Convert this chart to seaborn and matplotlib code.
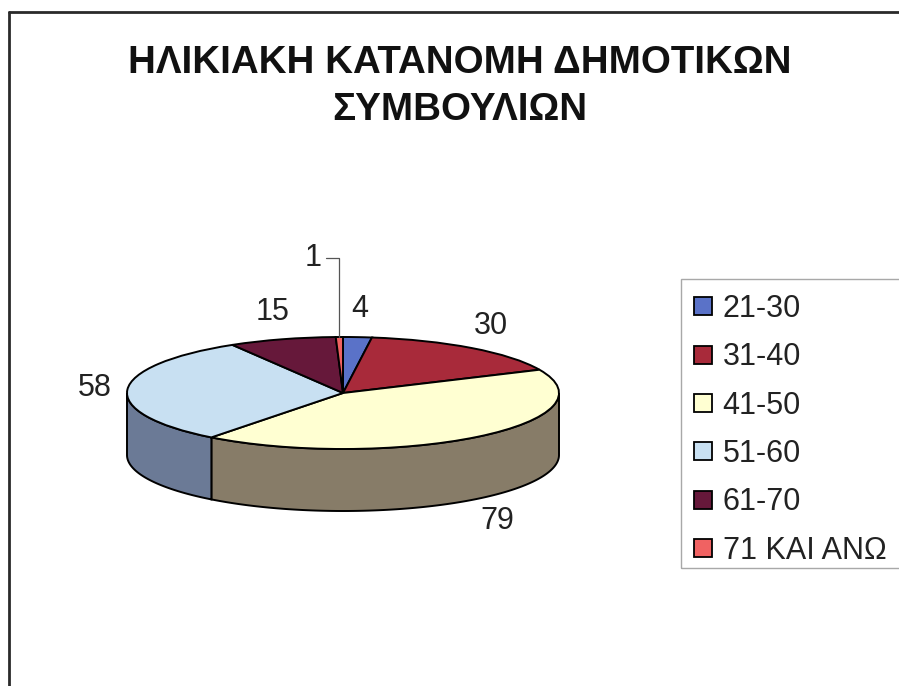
import numpy as np
import matplotlib
matplotlib.use('Agg')
import matplotlib.pyplot as plt
from matplotlib.lines import Line2D
from matplotlib.patches import Polygon, Rectangle
import seaborn as sns

# ---- data ----
categories = ['21-30', '31-40', '41-50', '51-60', '61-70', '71 ΚΑΙ ΑΝΩ']
values = [4, 30, 79, 58, 15, 1]
top_colors = ['#5a72c8', '#a82a3a', '#ffffd2', '#c8e0f2', '#66183a', '#f06262']
side_colors = ['#3c4f8c', '#701c28', '#877c68', '#6b7a96', '#451026', '#a04444']
title_lines = ['ΗΛΙΚΙΑΚΗ ΚΑΤΑΝΟΜΗ ΔΗΜΟΤΙΚΩΝ', 'ΣΥΜΒΟΥΛΙΩΝ']
leader_index = 5  # the tiny slice gets a leader line

sns.set_theme(style='white')
plt.rcParams['font.family'] = ['Liberation Sans', 'DejaVu Sans']

W, H, DPI = 899, 686, 100
fig = plt.figure(figsize=(W / DPI, H / DPI), dpi=DPI, facecolor='white')

# pie geometry (pixels)
CX, CY, RX, RY = 343, 393, 216, 56
DEPTH = 62 / 56
L, R, T, B = 40, 660, 220, 580
ax = fig.add_axes([L / W, 1 - B / H, (R - L) / W, (B - T) / H])

wedges, _ = ax.pie(values, colors=top_colors, startangle=90, counterclock=False, radius=1,
                   wedgeprops=dict(edgecolor='black', linewidth=1.4))
for w in wedges:
    w.set_zorder(3)
ax.set_aspect('auto')
ax.set_xlim((L - CX) / RX, (R - CX) / RX)
ax.set_ylim((CY - B) / RY, (CY - T) / RY)
ax.axis('off')

total = float(sum(values))
cum = np.concatenate([[0], np.cumsum(values)])
theta_start = 90 - cum[:-1] / total * 360
theta_end = 90 - cum[1:] / total * 360

# side walls (visible front half only)
for i in range(len(values)):
    a = max(theta_end[i], -180)
    b = min(theta_start[i], 0)
    if a >= b:
        continue
    t = np.radians(np.linspace(a, b, 200))
    top = np.column_stack([np.cos(t), np.sin(t)])
    bot = np.column_stack([np.cos(t), np.sin(t) - DEPTH])[::-1]
    ax.add_patch(Polygon(np.vstack([top, bot]), closed=True, facecolor=side_colors[i],
                         edgecolor='black', linewidth=1.4, zorder=2))

# data labels
LABEL_FS = 22
for i, v in enumerate(values):
    m = np.radians((theta_start[i] + theta_end[i]) / 2)
    c, s = np.cos(m), np.sin(m)
    if i == leader_index:
        ly = s + 1.41
        lx = c - 0.06
        ax.plot([c, c, lx], [s, ly, ly], color='#555555', lw=0.9, zorder=4)
        ax.text(lx - 0.02, ly, str(v), ha='right', va='center', fontsize=LABEL_FS, color='#222222')
        continue
    x = 1.15 * c
    y = 1.5 * s if s >= 0 else 1.5 * s - DEPTH
    ax.text(x, y, str(v), ha='center', va='center', fontsize=LABEL_FS, color='#222222')

# title
fig.text(460 / W, 1 - 73 / H, title_lines[0], ha='center', va='baseline', fontsize=27.7,
         fontweight='bold', color='#111111')
fig.text(460 / W, 1 - 120 / H, title_lines[1], ha='center', va='baseline', fontsize=27.7,
         fontweight='bold', color='#111111')

# legend
handles = [Line2D([], [], marker='s', ls='none', markersize=13.5, markerfacecolor=c,
                  markeredgecolor='black', markeredgewidth=1.3) for c in top_colors]
fig.legend(handles, categories, loc='upper left', bbox_to_anchor=(690 / W, 1 - 294 / H),
           frameon=False, fontsize=22, handlelength=0.85, handletextpad=0.22,
           labelspacing=0.6, borderaxespad=0, borderpad=0, labelcolor='#222222')
fig.add_artist(Rectangle((681 / W, 1 - 568 / H), (910 - 681) / W, (568 - 279) / H,
                         transform=fig.transFigure, fill=False, edgecolor='#a8a8a8', lw=1))

# chart frame (left and top edges visible)
fig.add_artist(Line2D([9 / W, 9 / W], [0, 1 - 12 / H], transform=fig.transFigure,
                      color='#2a2a2a', lw=2))
fig.add_artist(Line2D([9 / W, 1], [1 - 12 / H, 1 - 12 / H], transform=fig.transFigure,
                      color='#2a2a2a', lw=2))

fig.savefig('out.png', dpi=DPI, facecolor='white')
